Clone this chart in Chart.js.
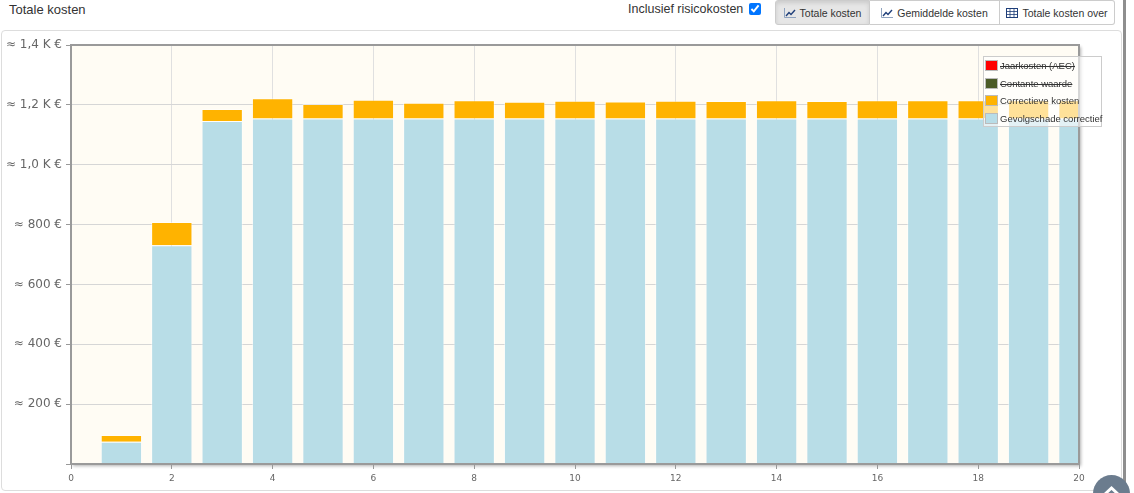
<!DOCTYPE html>
<html>
<head>
<meta charset="utf-8">
<title>Totale kosten</title>
<script src="https://cdn.jsdelivr.net/npm/chart.js@4.4.0/dist/chart.umd.min.js"></script>
<style>
    body {
        margin: 0;
        width: 1134px;
        height: 493px;
        overflow: hidden;
        background: #fff;
        position: relative;
        font-family: "Liberation Sans", Arial, sans-serif;
        color: #333;
    }
    .title {
        position: absolute;
        left: 9px;
        top: 2px;
        font-size: 13px;
        line-height: 16px;
    }
    .risk {
        position: absolute;
        left: 628px;
        top: 1px;
        font-size: 12.5px;
        line-height: 16px;
        display: flex;
        align-items: center;
    }
    .risk input {
        margin: 0 0 0 6px;
        width: 12px;
        height: 12px;
    }
    .btn-group {
        position: absolute;
        left: 775px;
        top: 0;
        height: 25px;
        display: flex;
    }
    .btn {
        box-sizing: border-box;
        height: 25px;
        border: 1px solid #ccc;
        border-left: none;
        background: #fff;
        font-size: 10.5px;
        display: flex;
        align-items: center;
        justify-content: center;
        gap: 4px;
    }
    .btn:first-child {
        border-left: 1px solid #ccc;
        border-radius: 3px 0 0 3px;
        background: #e6e6e6;
        box-shadow: inset 0 2px 4px rgba(0,0,0,0.12);
    }
    .btn:last-child {
        border-radius: 0 3px 3px 0;
    }
    .panel {
        position: absolute;
        left: 1px;
        top: 30px;
        width: 1119px;
        height: 459px;
        border: 1px solid #ddd;
        border-radius: 4px;
    }
    .edge {
        position: absolute;
        left: 1123px;
        top: 0;
        width: 3px;
        height: 493px;
        background: #8e8e8e;
    }
    .chart-box {
        position: absolute;
        left: 0;
        top: 32px;
        width: 1100px;
        height: 456px;
    }
    #legend {
        position: absolute;
        left: 983px;
        top: 56px;
        width: 117px;
        height: 69px;
        border: 1px solid #ccc;
        background: rgba(255,255,255,0.6);
        font-size: 9.5px;
        color: #333;
        white-space: nowrap;
    }
    #legend .item {
        height: 17.5px;
        display: flex;
        align-items: center;
    }
    #legend .swatch {
        box-sizing: border-box;
        flex: none;
        width: 13px;
        height: 11px;
        margin: 0 2px 0 1px;
        border: 1px solid #bbb;
    }
    #legend .off {
        text-decoration: line-through;
    }
    .to-top {
        position: absolute;
        left: 1093px;
        top: 475px;
        width: 37px;
        height: 37px;
        border-radius: 50%;
        background: #6b7c8e;
    }
</style>
</head>
<body>
<div class="title">Totale kosten</div>
<label class="risk">Inclusief risicokosten<input type="checkbox" checked></label>
<div class="btn-group">
    <div class="btn" style="width:95px">
        <svg width="12" height="10" viewBox="0 0 12 10"><path d="M0.5 0 V9.5 H12" fill="none" stroke="#8fa3bf" stroke-width="1"/><polyline points="2,8 5,4.5 7,6.5 11,2" fill="none" stroke="#1f3f7a" stroke-width="1.4"/></svg>
        <span>Totale kosten</span>
    </div>
    <div class="btn" style="width:130px">
        <svg width="12" height="10" viewBox="0 0 12 10"><path d="M0.5 0 V9.5 H12" fill="none" stroke="#8fa3bf" stroke-width="1"/><polyline points="2,8 5,4.5 7,6.5 11,2" fill="none" stroke="#1f3f7a" stroke-width="1.4"/></svg>
        <span>Gemiddelde kosten</span>
    </div>
    <div class="btn" style="width:115px">
        <svg width="12" height="10" viewBox="0 0 12 10"><rect x="0.5" y="0.5" width="11" height="9" fill="none" stroke="#1f3f7a"/><path d="M0.5 3.5 H11.5 M0.5 6.5 H11.5 M4 0.5 V9.5 M8 0.5 V9.5" stroke="#1f3f7a" stroke-width="0.8"/></svg>
        <span>Totale kosten over</span>
    </div>
</div>
<div class="panel"></div>
<div class="edge"></div>
<div class="chart-box"><canvas id="kostenChart"></canvas></div>
<div id="legend"></div>
<div class="to-top">
    <svg width="37" height="37" viewBox="0 0 37 37"><polyline points="11,20 18.5,13 26,20" fill="none" stroke="#fff" stroke-width="3"/></svg>
</div>

<script>
// Jaren (x-as)
const years = [1, 2, 3, 4, 5, 6, 7, 8, 9, 10, 11, 12, 13, 14, 15, 16, 17, 18, 19, 20];

// Gevolgschade correctief (onderste deel van de staaf)
const gevolgschadeCorrectief = [74, 731, 1146, 1154, 1154, 1154, 1154, 1154, 1154, 1154,
                                1154, 1154, 1154, 1154, 1154, 1154, 1154, 1154, 1154, 1154];

// Correctieve kosten (bovenste deel)
const correctieveKosten = [23, 78, 40, 68, 49, 63, 53, 61, 56, 60,
                           57, 60, 59, 61, 59, 61, 61, 61, 61, 61];

// Y-as labels
const yTickValues = [200, 400, 600, 800, 1000, 1200, 1400];
const yTickLabels = ['≈ 200 €', '≈ 400 €', '≈ 600 €', '≈ 800 €', '≈ 1,0 K €', '≈ 1,2 K €', '≈ 1,4 K €'];

// Legend order
const legendOrder = ['Jaarkosten (AEC)', 'Contante waarde', 'Correctieve kosten', 'Gevolgschade correctief'];

// Plot background + frame
const plotFrame = {
    id: 'plotFrame',
    beforeDraw(chart) {
        const { ctx, chartArea: a } = chart;
        ctx.save();
        ctx.shadowColor = 'rgba(0,0,0,0.3)';
        ctx.shadowOffsetX = 2;
        ctx.shadowOffsetY = 2;
        ctx.shadowBlur = 3;
        ctx.fillStyle = '#fffcf4';
        ctx.fillRect(a.left, a.top, a.width, a.height);
        ctx.restore();
    },
    afterDatasetsDraw(chart) {
        const { ctx, chartArea: a } = chart;
        ctx.save();
        ctx.strokeStyle = '#9a9a9a';
        ctx.lineWidth = 2;
        ctx.strokeRect(a.left, a.top, a.width, a.height);
        ctx.restore();
    }
};

const ctx = document.getElementById('kostenChart');

const kostenChart = new Chart(ctx, {
    type: 'bar',
    data: {
        labels: years,
        datasets: [{
            type: 'line',
            label: 'Jaarkosten (AEC)',
            data: [],
            backgroundColor: '#ff0000',
            borderColor: '#ff0000',
            hidden: true
        }, {
            type: 'line',
            label: 'Contante waarde',
            data: [],
            backgroundColor: '#4b5b27',
            borderColor: '#4b5b27',
            hidden: true
        }, {
            label: 'Gevolgschade correctief',
            data: gevolgschadeCorrectief,
            backgroundColor: '#b8dde7',
            borderColor: 'rgba(255,255,255,0.45)',
            borderWidth: 1,
            stack: 'kosten'
        }, {
            label: 'Correctieve kosten',
            data: correctieveKosten,
            backgroundColor: '#ffb300',
            borderColor: 'rgba(255,255,255,0.45)',
            borderWidth: 1,
            stack: 'kosten'
        }]
    },
    options: {
        responsive: true,
        maintainAspectRatio: false,
        animation: false,
        barPercentage: 0.82,
        categoryPercentage: 1,
        layout: {
            padding: { left: 0, top: 13, right: 21, bottom: 0 }
        },
        scales: {
            x: {
                type: 'linear',
                stacked: true,
                offset: false,
                min: 0,
                max: 20,
                grid: {
                    offset: false,
                    color: '#e0e0e0',
                    tickColor: '#999',
                    tickLength: 5
                },
                border: { display: false },
                ticks: {
                    stepSize: 2,
                    padding: 4,
                    color: '#666',
                    font: { family: 'DejaVu Sans', size: 9 },
                    maxRotation: 0
                },
                afterFit(scale) {
                    scale.height = 24;
                }
            },
            y: {
                stacked: true,
                min: 0,
                max: 1400,
                grid: {
                    color: '#d6d6d6',
                    tickColor: '#999',
                    tickLength: 5
                },
                border: { display: false },
                ticks: {
                    stepSize: 200,
                    padding: 4,
                    color: '#666',
                    font: { family: 'DejaVu Sans', size: 12 },
                    callback: function(value) {
                        const i = yTickValues.indexOf(value);
                        return i >= 0 ? yTickLabels[i] : '';
                    }
                },
                afterFit(scale) {
                    scale.width = 71;
                }
            }
        },
        plugins: {
            legend: { display: false },
            tooltip: { enabled: false }
        }
    },
    plugins: [plotFrame]
});

// HTML legend
const legendEl = document.getElementById('legend');
legendOrder.forEach(function(name) {
    const ds = kostenChart.data.datasets.find(d => d.label === name);
    const item = document.createElement('div');
    item.className = 'item';
    const swatch = document.createElement('span');
    swatch.className = 'swatch';
    swatch.style.background = ds.backgroundColor;
    const text = document.createElement('span');
    text.textContent = ds.label;
    if (ds.hidden) text.className = 'off';
    item.appendChild(swatch);
    item.appendChild(text);
    legendEl.appendChild(item);
});
</script>
</body>
</html>
